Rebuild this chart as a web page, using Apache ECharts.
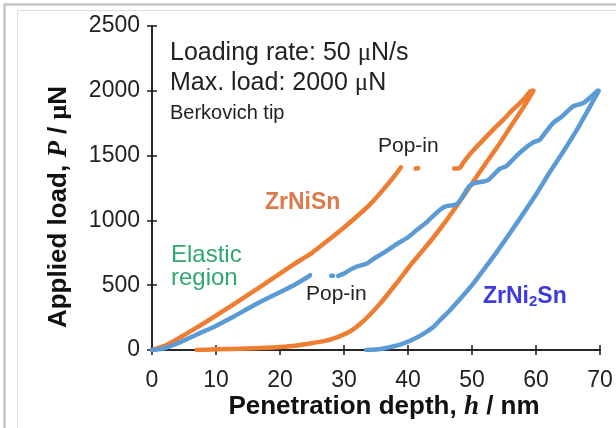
<!DOCTYPE html>
<html>
<head>
<meta charset="utf-8">
<script src="https://cdn.jsdelivr.net/npm/echarts@6/dist/echarts.min.js"></script>
<style>
html,body{margin:0;padding:0;background:#fff;}
#c{width:616px;height:428px;}
</style>
</head>
<body>
<div id="c"></div>
<script>
// ---- data (h in nm, P in μN) ----
var xTicks = [0, 10, 20, 30, 40, 50, 60, 70];
var yTicks = [0, 500, 1000, 1500, 2000, 2500];

var zrNiSnLoad1 = [[0,0],[2.5,45],[5,115],[7.5,188],[10,265],[12.5,345],[15,425],[17.5,507],[20,590],[22.5,672],[25,750],[28,865],[30,945],[32,1030],[34,1120],[36,1230],[38,1350],[38.9,1410]];
var zrNiSnPopDot = [[41.2,1400],[41.6,1403]];
var zrNiSnLoad2 = [[47.2,1400],[48.1,1405],[48.6,1443],[50,1530],[51.8,1623],[53.3,1700],[54.9,1778],[56.5,1860],[58,1930],[59.1,1996],[59.5,2000]];
var zrNiSnUnload = [[59.6,2000],[58,1870],[56,1720],[54,1570],[52,1430],[50,1285],[48,1140],[46,1000],[44,870],[42,750],[40.3,650],[38.6,540],[37,440],[35.5,350],[34,270],[32.5,200],[31,145],[29,100],[27,70],[24,45],[22,30],[19,20],[15,12],[10,5],[7,0]];

var zrNi2SnLoad1 = [[0,0],[2,15],[4.6,64],[7,120],[9.8,182],[12.5,250],[15,320],[17.5,385],[20.2,451],[22.5,510],[24.4,565],[24.7,578]];
var zrNi2SnPopDot = [[28,572],[28.3,573]];
var zrNi2SnLoad2 = [[29.1,572],[30,590],[31,620],[32,644],[33.5,665],[34.5,700],[36.1,747],[38,810],[40,870],[41.4,927],[43,990],[45,1082],[46,1110],[47.6,1125],[48.5,1180],[49.5,1262],[50.5,1290],[51.8,1300],[52.5,1310],[54.4,1400],[55.4,1420],[57,1500],[58,1546],[59.5,1600],[60.6,1623],[61.5,1680],[62.7,1752],[64,1800],[65.8,1880],[67.4,1906],[68.5,1950],[69.6,2000]];
var zrNi2SnUnload = [[69.8,2000],[68,1840],[66.4,1700],[64,1510],[62,1360],[60,1200],[57,979],[54,765],[51.8,618],[50,500],[48,385],[46.6,309],[45,230],[44,180],[42.4,125],[40.5,75],[38.75,42],[36.5,15],[35,3],[33.5,0]];

var ORANGE = '#EE7D31';
var BLUE = '#5B9BD5';
var FONT = '"Liberation Sans", Arial, sans-serif';
var SERIF = '"Liberation Serif", "Times New Roman", serif';

function lineSeries(name, data, color) {
  return {
    name: name, type: 'line', data: data, showSymbol: false, smooth: 0.2,
    xAxisIndex: 0, yAxisIndex: 0,
    lineStyle: { color: color, width: 4.5, cap: 'round', join: 'round' },
    itemStyle: { color: color }, z: 3, silent: true
  };
}

var chart = echarts.init(document.getElementById('c'), null, { renderer: 'canvas' });

var axisLine = { show: true, lineStyle: { color: '#1a1a1a', width: 1.5 } };
var tick = { show: true, inside: true, length: 5, lineStyle: { color: '#1a1a1a', width: 1.5 } };

var option = {
  animation: false,
  backgroundColor: '#ffffff',
  grid: { left: 152, right: 16, top: 26, bottom: 78, show: false },
  xAxis: [
    { type: 'value', min: 0, max: 70, interval: 10, position: 'bottom',
      axisLine: axisLine, axisTick: tick, splitLine: { show: false },
      axisLabel: { color: '#222', fontSize: 23, fontFamily: FONT, margin: 19,
        formatter: function (v) { return xTicks.indexOf(v) >= 0 ? String(v) : ''; } } },
    { type: 'value', min: 0, max: 70, interval: 10, position: 'top',
      axisLine: axisLine, axisTick: tick, splitLine: { show: false }, axisLabel: { show: false } }
  ],
  yAxis: [
    { type: 'value', min: 0, max: 2500, interval: 500, position: 'left',
      axisLine: axisLine, axisTick: tick, splitLine: { show: false },
      axisLabel: { color: '#222', fontSize: 23, fontFamily: FONT, margin: 12,
        formatter: function (v) { return yTicks.indexOf(v) >= 0 ? String(v) : ''; } } },
    { type: 'value', min: 0, max: 2500, interval: 500, position: 'right',
      axisLine: axisLine, axisTick: tick, splitLine: { show: false }, axisLabel: { show: false } }
  ],
  series: [
    lineSeries('ZrNiSn load 1', zrNiSnLoad1, ORANGE),
    lineSeries('ZrNiSn pop', zrNiSnPopDot, ORANGE),
    lineSeries('ZrNiSn load 2', zrNiSnLoad2, ORANGE),
    lineSeries('ZrNiSn unload', zrNiSnUnload, ORANGE),
    lineSeries('ZrNi2Sn load 1', zrNi2SnLoad1, BLUE),
    lineSeries('ZrNi2Sn pop', zrNi2SnPopDot, BLUE),
    lineSeries('ZrNi2Sn load 2', zrNi2SnLoad2, BLUE),
    lineSeries('ZrNi2Sn unload', zrNi2SnUnload, BLUE)
  ],
  graphic: [
    { type: 'rect', shape: { x: 4.5, y: 4.5, width: 640, height: 460 }, style: { fill: null, stroke: '#c6c6c6', lineWidth: 2.5 }, silent: true, z: 0 },
    { type: 'line', shape: { x1: 17.5, y1: 10, x2: 17.5, y2: 430 }, style: { stroke: '#dddddd', lineWidth: 1 }, silent: true },
    { type: 'line', shape: { x1: 17, y1: 10.5, x2: 620, y2: 10.5 }, style: { stroke: '#dddddd', lineWidth: 1 }, silent: true },

    { type: 'text', x: 170, y: 53, style: { text: 'Loading rate: 50 {m|μ}N/s', fontSize: 25, fontFamily: FONT, fill: '#222', verticalAlign: 'middle',
        rich: { m: { fontSize: 25, fontFamily: SERIF, fill: '#222' } } } },
    { type: 'text', x: 170, y: 83, style: { text: 'Max. load: 2000 {m|μ}N', fontSize: 25, fontFamily: FONT, fill: '#222', verticalAlign: 'middle',
        rich: { m: { fontSize: 25, fontFamily: SERIF, fill: '#222' } } } },
    { type: 'text', x: 170, y: 113, style: { text: 'Berkovich tip', fontSize: 20, fontFamily: FONT, fill: '#222', verticalAlign: 'middle' } },

    { type: 'text', x: 378, y: 146, style: { text: 'Pop-in', fontSize: 21, fontFamily: FONT, fill: '#222', verticalAlign: 'middle' } },
    { type: 'text', x: 306, y: 294, style: { text: 'Pop-in', fontSize: 21, fontFamily: FONT, fill: '#222', verticalAlign: 'middle' } },
    { type: 'text', x: 265, y: 203, style: { text: 'ZrNiSn', fontSize: 23, fontWeight: 'bold', fontFamily: FONT, fill: '#DB7B4B', verticalAlign: 'middle' } },
    { type: 'text', x: 171, y: 255, style: { text: 'Elastic', fontSize: 24, fontFamily: FONT, fill: '#2EA86E', verticalAlign: 'middle' } },
    { type: 'text', x: 171, y: 278, style: { text: 'region', fontSize: 24, fontFamily: FONT, fill: '#2EA86E', verticalAlign: 'middle' } },
    { type: 'text', x: 483, y: 297, style: { text: 'ZrNi{s|2}Sn', fontSize: 23, fontWeight: 'bold', fontFamily: FONT, fill: '#3B3BDD', verticalAlign: 'middle',
        rich: { s: { fontSize: 15, fontWeight: 'bold', fontFamily: FONT, fill: '#3B3BDD', padding: [10, 0, 0, 0] } } } },

    { type: 'text', x: 384, y: 407, style: { text: 'Penetration depth, {i|h} / nm', fontSize: 26, fontWeight: 'bold', fontFamily: FONT, fill: '#111', align: 'center', verticalAlign: 'middle',
        rich: { i: { fontSize: 27, fontWeight: 'bold', fontStyle: 'italic', fontFamily: SERIF, fill: '#111' } } } },
    { type: 'text', x: 59, y: 207, rotation: Math.PI / 2, style: { text: 'Applied load, {i|P} / {m|μ}N', fontSize: 26, fontWeight: 'bold', fontFamily: FONT, fill: '#111', align: 'center', verticalAlign: 'middle',
        rich: { i: { fontSize: 27, fontWeight: 'bold', fontStyle: 'italic', fontFamily: SERIF, fill: '#111' }, m: { fontSize: 26, fontWeight: 'bold', fontFamily: SERIF, fill: '#111' } } } }
  ]
};
chart.setOption(option);
</script>
</body>
</html>
